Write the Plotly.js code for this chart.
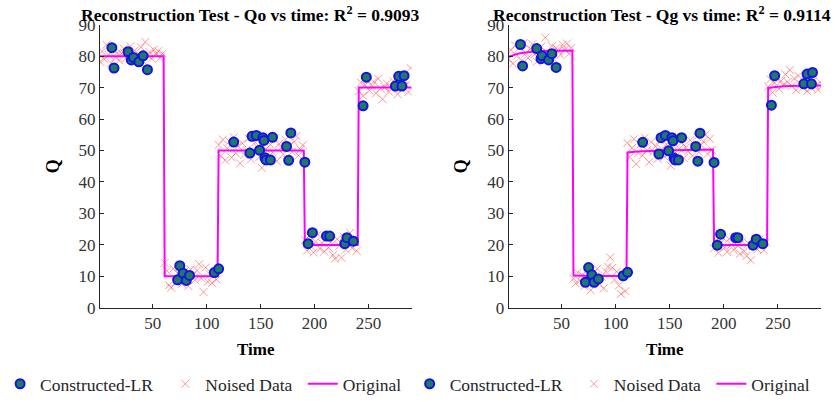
<!DOCTYPE html>
<html>
<head>
<meta charset="utf-8">
<script src="https://cdn.plot.ly/plotly-3.0.1.min.js"></script>
<style>html,body{margin:0;padding:0;background:#fff;}#chart{width:835px;height:402px;}</style>
</head>
<body>
<div id="chart"></div>
<script>
// ---------- DATA ----------
// Noised data, sampled every 2 time units starting at t = 1 (x0 = 1, dx = 2)
const noiseQoSeg1 = [78.2,81.5,79.0,83.6,80.4,77.8,82.1,79.6,81.0,78.7,80.9,82.4,79.3,80.2,83.1,78.9,81.7,79.8,80.6,82.8,78.4,84.5,80.1,81.3,79.2,82.0,80.7,81.6,79.5,80.8];
const noiseQoSeg2 = [14.3,11.8,7.2,6.4,12.5,8.1,10.9,13.0,7.6,11.4,9.2,6.9,12.2,10.3,8.8,11.9,13.9,9.4,5.0,12.8,8.3,10.6,7.9,11.1,9.0];
const noiseQoSeg3 = [51.8,48.3,53.5,46.9,50.7,52.9,47.8,54.2,49.1,51.4,45.9,52.3,48.6,50.2,53.8,47.2,49.9,52.6,51.1,48.0,44.5,53.1,50.5,47.5,51.9,49.4,54.0,46.6,52.1,50.9,48.8,53.4,47.0,51.6,49.6,52.8,54.6,48.4,50.3,51.7];
const noiseQoSeg4 = [21.5,18.2,22.9,19.4,17.6,21.0,23.3,18.8,20.6,17.9,22.1,19.1,20.9,16.8,15.6,21.8,19.7,15.9,22.6,18.5,20.3,23.8,19.0,21.3,18.1];
const noiseQoSeg5 = [68.9,71.6,67.4,70.8,72.3,69.1,70.5,71.9,68.2,72.8,69.7,66.3,70.2,71.3,68.7,69.8,72.1,70.6,67.9,71.0,69.4,72.5,70.9,68.6,76.2];

const noiseQgSeg1 = [79.1,81.9,77.6,83.4,80.2,82.7,78.5,84.1,80.9,79.4,82.3,83.8,80.6,78.2,81.5,82.9,79.7,85.9,81.2,80.0,83.2,79.0,82.5,81.7,80.4,83.6,82.1,84.0,80.8,82.6];
const noiseQgSeg2 = [9.3,7.8,11.2,8.6,10.4,6.9,9.8,12.0,5.6,10.9,8.2,12.4,7.5,9.9,6.2,11.6,13.1,16.0,12.7,8.9,11.5,7.1,4.4,10.6,5.3];
const noiseQgSeg3 = [52.4,47.9,50.8,53.6,45.7,49.2,51.9,48.5,54.1,50.1,46.3,52.7,49.6,51.3,47.4,53.2,50.4,48.1,52.0,49.0,45.2,51.6,53.9,48.7,50.6,52.5,47.6,51.0,49.8,53.3,48.3,50.9,54.4,49.4,51.8,52.9,55.0,48.9,53.7,50.2];
const noiseQgSeg4 = [18.9,21.4,17.5,20.6,22.3,19.2,17.8,21.9,20.1,18.4,22.6,19.7,17.2,21.1,18.0,16.5,20.4,15.1,19.5,22.0,18.6,21.7,19.9,18.3,20.8];
const noiseQgSeg5 = [70.3,72.6,68.4,71.5,73.0,69.6,72.1,70.9,74.2,71.8,75.6,70.4,72.9,69.2,73.7,71.1,70.0,72.4,68.9,71.4,69.8,72.2,70.6,69.3,71.7];

// Original signals
const origTimeQo = [1,60,61,110,111,190,191,240,241,290];
const origQo     = [80,80,10,10,50,50,20,20,70,70];
const origTimeQg = [1,5,10,15,20,30,40,60,61,80,110,111,120,130,150,170,190,191,215,240,241,250,260,270,290];
const origQg     = [79.8,80.3,80.8,81.1,81.3,81.6,81.7,81.8,10.3,10.1,10.1,49.4,49.7,49.9,50.1,50.2,50.3,20.0,20.0,20.0,69.9,70.3,70.5,70.6,70.7];

// Constructed-LR points
const lrTimeQo = [12,14,27,30,32,37,41,45, 73,75,78,81,84,107,111, 125,140,142,146,149,152,153,154,155,159,161,174,176,178,191, 194,198,211,214,228,230,236, 245,248,275,278,281,283];
const lrQo     = [82.7,76.2,81.4,78.8,79.6,78.2,80.1,75.7, 8.9,13.4,11.0,8.7,10.3,11.2,12.4, 52.7,49.2,54.5,54.8,50.1,54.1,53.2,47.7,47.0,47.0,54.2,51.3,46.9,55.6,46.3, 20.4,23.9,22.8,22.8,20.4,22.3,21.2, 64.2,73.3,70.5,73.6,70.5,73.8];
const lrTimeQg = [12,14,27,31,32,38,41,45, 72,75,78,80,84,107,111, 125,140,142,146,149,152,153,154,155,158,161,174,176,178,191, 194,197,211,213,227,230,236, 244,247,274,277,281,282];
const lrQg     = [83.7,76.9,82.4,79.2,80.1,78.8,80.8,76.4, 8.1,12.8,10.5,8.1,9.2,10.2,11.3, 52.6,48.9,54.1,54.8,49.9,54.1,53.1,47.6,47.0,47.0,54.1,51.3,46.6,55.5,46.2, 19.9,23.4,22.3,22.3,19.9,21.8,20.4, 64.4,73.8,71.2,74.3,71.2,74.8];

const titles = ['Reconstruction Test - Qo vs time: R<sup>2</sup> = 0.9093',
                'Reconstruction Test - Qg vs time: R<sup>2</sup> = 0.9114'];
const xTickVals = [50,100,150,200,250];
const yTickVals = [0,10,20,30,40,50,60,70,80,90];

// ---------- STYLE ----------
const FONT = '"Liberation Serif", "Times New Roman", serif';
const noiseQo = noiseQoSeg1.concat(noiseQoSeg2, noiseQoSeg3, noiseQoSeg4, noiseQoSeg5);
const noiseQg = noiseQgSeg1.concat(noiseQgSeg2, noiseQgSeg3, noiseQgSeg4, noiseQgSeg5);

function noiseTrace(y, xa, ya, lg) {
  return {type:'scatter', mode:'markers', name:'Noised Data', x0:1, dx:2, y:y,
    xaxis:xa, yaxis:ya, legend:lg,
    marker:{symbol:'x-thin', size:8, line:{width:1, color:'rgba(255,70,70,0.55)'}}};
}
function origTrace(x, y, xa, ya, lg) {
  return {type:'scatter', mode:'lines', name:'Original', x:x, y:y, xaxis:xa, yaxis:ya, legend:lg,
    line:{color:'#ff00ff', width:2}};
}
function lrTrace(x, y, xa, ya, lg) {
  return {type:'scatter', mode:'markers', name:'Constructed-LR', x:x, y:y, xaxis:xa, yaxis:ya, legend:lg,
    marker:{symbol:'circle', size:9, color:'#1e7b5c', line:{color:'#1212ee', width:2}}};
}

const data = [
  noiseTrace(noiseQo, 'x', 'y', 'legend2'),
  origTrace(origTimeQo, origQo, 'x', 'y', 'legend3'),
  lrTrace(lrTimeQo, lrQo, 'x', 'y', 'legend'),
  noiseTrace(noiseQg, 'x2', 'y2', 'legend5'),
  origTrace(origTimeQg, origQg, 'x2', 'y2', 'legend6'),
  lrTrace(lrTimeQg, lrQg, 'x2', 'y2', 'legend4')
];

const W = 835, H = 402;
function xAxis(dom, anchor) {
  return {domain:dom, anchor:anchor, range:[1,290], tickvals:xTickVals, ticks:'inside', ticklen:4,
    tickcolor:'#262626', showline:true, linecolor:'#262626', linewidth:1, showgrid:false, zeroline:false,
    automargin:false, tickfont:{family:FONT, size:17, color:'#333333'},
    title:{text:'<b>Time</b>', font:{family:FONT, size:17, color:'#000'}, standoff:10}};
}
function yAxis(dom, anchor) {
  return {domain:dom, anchor:anchor, range:[0,90], tickvals:yTickVals, ticks:'inside', ticklen:4,
    tickcolor:'#262626', showline:true, linecolor:'#262626', linewidth:1, showgrid:false, zeroline:false,
    automargin:false, tickfont:{family:FONT, size:17, color:'#333333'},
    title:{text:'<b>Q</b>', font:{family:FONT, size:18, color:'#000'}, standoff:14}};
}
const yDom = [1 - 311.7/H, 1 - 25/H];
function legendAt(px) {
  return {x:px/W, xanchor:'left', y:1 - 388.7/H, yanchor:'middle', orientation:'h',
    bgcolor:'rgba(0,0,0,0)', borderwidth:0, font:{family:FONT, size:17.5, color:'#262626'}};
}

const layout = {
  width:W, height:H, margin:{l:0, r:0, t:0, b:0}, paper_bgcolor:'#fff', plot_bgcolor:'#fff',
  font:{family:FONT},
  xaxis: xAxis([92/W, 407/W], 'y'),
  yaxis: yAxis(yDom, 'x'),
  xaxis2: xAxis([505/W, 821/W], 'y2'),
  yaxis2: yAxis(yDom, 'x2'),
  showlegend:true,
  legend: legendAt(-9),
  legend2: legendAt(158),
  legend3: legendAt(297),
  legend4: legendAt(405),
  legend5: legendAt(571),
  legend6: legendAt(710),
  annotations:[
    {text:'<b>'+titles[0]+'</b>', xref:'paper', yref:'paper', x:244/W, y:1-14/H, xanchor:'center', yanchor:'middle',
     showarrow:false, font:{family:FONT, size:17.5, color:'#000'}},
    {text:'<b>'+titles[1]+'</b>', xref:'paper', yref:'paper', x:660/W, y:1-14/H, xanchor:'center', yanchor:'middle',
     showarrow:false, font:{family:FONT, size:17.5, color:'#000'}}
  ]
};

Plotly.newPlot('chart', data, layout, {displayModeBar:false, staticPlot:true});
</script>
</body>
</html>
